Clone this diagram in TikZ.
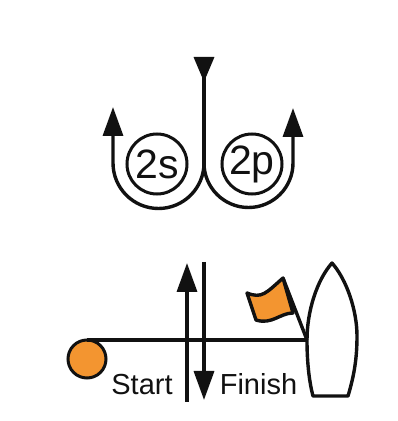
\documentclass[tikz,border=0pt]{standalone}
\usepackage{fontspec}
\setmainfont{Liberation Sans}
\usetikzlibrary{arrows.meta}
\definecolor{flagorange}{HTML}{F39530}
\definecolor{ink}{HTML}{111111}
\tikzset{
  x=1pt,y=1pt,
  course/.style={draw=ink,line width=3.4pt},
  uptip/.style={-{Triangle[length=29pt,width=20pt]}},
  topdown/.style={{Triangle[reversed,length=25pt,width=20pt]}-},
  penalty/.style={circle,draw=ink,line width=3pt,minimum size=60pt,inner sep=0pt,font=\fontsize{41}{41}\selectfont,text=ink},
  mark buoy/.style={circle,draw=ink,line width=3pt,fill=flagorange,minimum size=38pt,inner sep=0pt},
  label text/.style={inner sep=0pt,anchor=base,font=\fontsize{29}{29}\selectfont,text=ink},
  outline/.style={draw=ink,line width=3.4pt,line join=round}
}
\begin{document}
\begin{tikzpicture}
\useasboundingbox (0,0) rectangle (398,421);
% upper figure
\coordinate (entry) at (204,364);
\coordinate (junction) at (204,256);
\coordinate (arcstart) at (204,258);
\coordinate (leftexit) at (113,314);
\coordinate (rightexit) at (293,313);
\node[penalty] (s2) at (157,257) {2s};
\node[penalty] (p2) at (252,257) {2p};
\draw[course,topdown] (entry) -- (junction);
\draw[course,uptip] (arcstart) arc[start angle=0,end angle=-180,radius=45.5] -- (leftexit);
\draw[course,uptip] (arcstart) arc[start angle=180,end angle=360,radius=44.5] -- (rightexit);
% lower figure
\node[mark buoy] (buoy) at (87,62) {};
\coordinate (boatside) at (307,81);
\coordinate (lineend) at (87,81);
\coordinate (starta) at (187,19);
\coordinate (startb) at (187,158);
\coordinate (finisha) at (204,159);
\coordinate (finishb) at (204,21);
\coordinate (bow) at (332,158);
\coordinate (sternl) at (313,25);
\coordinate (sternr) at (348,25);
\coordinate (poletop) at (283,143);
\draw[course] (lineend) -- (boatside);
\draw[course,uptip] (starta) -- (startb);
\draw[course,uptip] (finisha) -- (finishb);
\draw[outline] (bow) .. controls (317,141) and (307,110) .. (307,81)
  .. controls (307,60) and (309,40) .. (sternl) -- (sternr)
  .. controls (354,45) and (357,62) .. (357,85)
  .. controls (357,110) and (347,141) .. (bow) -- cycle;
\draw[outline] (boatside) -- (poletop);
\draw[outline,fill=flagorange] (247,128) .. controls (262,122) and (266,128) .. (poletop)
  -- (293,108) .. controls (280,108) and (272,96) .. (256,101) -- cycle;
\node[label text] (start) at (142,27) {Start};
\node[label text] (finish) at (258.5,27) {Finish};
\end{tikzpicture}
\end{document}
